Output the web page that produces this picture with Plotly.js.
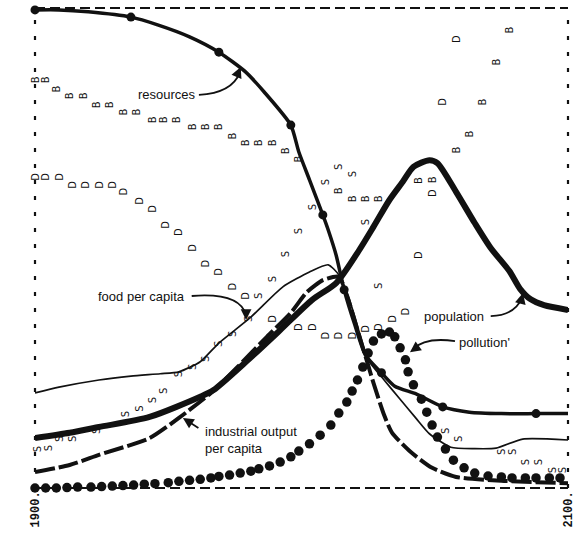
<!DOCTYPE html>
<html><head><meta charset="utf-8">
<script src="https://cdn.plot.ly/plotly-3.0.1.min.js"></script>
<style>
html,body{margin:0;padding:0;background:#fff;}
#chart{width:580px;height:539px;}
</style></head><body><div id="chart"></div>
<script>
// x: year, y: share of each variable's own vertical scale (0 = bottom, 1 = top)
const tickYears = [1900, 2100];
const tickLabels = ["1900.", "2100."];

const resourcesYear = [1900,1909,1920,1936,1946,1958,1969,1979,1986,1996,1999,2003,2008,2010,2013,2016,2020,2024,2030,2035,2043,2053,2063,2075,2088,2100];
const resourcesVal  = [0.996,0.996,0.992,0.981,0.965,0.940,0.908,0.867,0.825,0.756,0.700,0.642,0.569,0.538,0.485,0.413,0.340,0.277,0.240,0.212,0.196,0.169,0.158,0.155,0.155,0.155];

const populationYear = [1900,1913,1924,1943,1962,1967,1980,1992,2004,2013,2021,2027,2033,2038,2042,2048,2051,2058,2065,2071,2078,2082,2086,2091,2100];
const populationVal  = [0.104,0.115,0.127,0.148,0.190,0.204,0.267,0.329,0.392,0.427,0.490,0.544,0.600,0.638,0.669,0.683,0.677,0.617,0.552,0.500,0.452,0.415,0.393,0.381,0.371];

const foodYear = [1900,1909,1924,1936,1947,1954,1962,1969,1981,1993,2003,2010,2014,2018,2022,2025,2031,2037,2043,2048,2056,2065,2073,2083,2100];
const foodVal  = [0.198,0.210,0.225,0.233,0.238,0.242,0.263,0.302,0.356,0.419,0.450,0.465,0.444,0.392,0.319,0.267,0.225,0.185,0.145,0.113,0.085,0.082,0.083,0.102,0.100];

const industryYear = [1900,1913,1924,1943,1954,1966,1976,1987,1996,2002,2008,2014,2017,2021,2025,2027,2031,2034,2041,2049,2058,2075,2100];
const industryVal  = [0.033,0.048,0.069,0.104,0.146,0.198,0.252,0.315,0.365,0.408,0.433,0.440,0.402,0.329,0.256,0.219,0.152,0.115,0.075,0.042,0.023,0.015,0.010];

const pollutionYear = [1900,1904,1908,1912,1916,1921,1925,1929,1933,1937,1941,1945,1950,1954,1958,1962,1966,1969,1973,1977,1981,1984,1988,1992,1996,1999,2003,2007,2011,2014,2017,2019,2021,2023,2025,2027,2030,2033,2035,2037,2039,2040,2042,2045,2047,2049,2051,2054,2057,2061,2065,2070,2075,2079,2084,2088,2093,2097];
const pollutionVal  = [0.000,0.000,0.000,0.001,0.002,0.002,0.003,0.004,0.005,0.006,0.008,0.009,0.011,0.014,0.016,0.018,0.021,0.024,0.027,0.031,0.035,0.040,0.046,0.054,0.065,0.077,0.092,0.110,0.131,0.156,0.179,0.202,0.225,0.252,0.281,0.306,0.321,0.325,0.315,0.292,0.267,0.242,0.215,0.185,0.158,0.131,0.106,0.081,0.058,0.042,0.031,0.025,0.023,0.021,0.021,0.021,0.021,0.021];

const birthYear = [1900,1904,1908,1913,1918,1923,1928,1933,1938,1944,1948,1953,1959,1964,1969,1974,1979,1984,1989,1994,1999,2014,2019,2024,2029,2044,2049,2058,2063,2068,2073,2078];
const birthVal  = [0.848,0.848,0.829,0.815,0.815,0.796,0.796,0.781,0.781,0.765,0.765,0.765,0.750,0.750,0.750,0.731,0.717,0.717,0.717,0.700,0.683,0.617,0.600,0.600,0.600,0.638,0.640,0.702,0.735,0.802,0.885,0.952];

const deathYear = [1900,1904,1909,1914,1919,1924,1929,1933,1939,1944,1949,1954,1959,1964,1969,1974,1979,1989,1999,2004,2009,2014,2019,2024,2029,2034,2039,2044,2049,2053,2058];
const deathVal  = [0.646,0.646,0.646,0.629,0.629,0.629,0.629,0.615,0.596,0.579,0.546,0.531,0.498,0.465,0.448,0.417,0.398,0.350,0.333,0.333,0.315,0.315,0.315,0.329,0.333,0.350,0.365,0.483,0.612,0.802,0.933];

const servicesYear = [1901,1905,1909,1914,1923,1934,1939,1944,1948,1954,1959,1964,1969,1974,1980,1984,1989,1994,1999,2004,2009,2014,2019,2024,2029,2054,2059,2075,2079,2084,2089,2094,2098];
const servicesVal  = [0.079,0.081,0.100,0.100,0.117,0.152,0.163,0.181,0.200,0.235,0.250,0.267,0.298,0.319,0.350,0.398,0.433,0.485,0.533,0.583,0.635,0.667,0.652,0.552,0.419,0.117,0.100,0.073,0.073,0.052,0.052,0.035,0.035];

const labelFont = {family: 'Liberation Sans, Arial, sans-serif', size: 13, color: '#111'};
const letterFont = {family: 'DejaVu Sans, sans-serif', size: 10, color: '#111'};

function letters(xs, ys, ch) {
  return {x: xs, y: ys, mode: 'text', type: 'scatter', text: xs.map(() => ch),
          textposition: 'middle center', textfont: letterFont, hoverinfo: 'skip', cliponaxis: false};
}

const traces = [
  letters(birthYear, birthVal, 'B'),
  letters(deathYear, deathVal, 'D'),
  letters(servicesYear, servicesVal, 'S'),
  {x: foodYear, y: foodVal, mode: 'lines', type: 'scatter', name: 'food per capita',
   line: {color: '#111', width: 1.7, shape: 'spline', smoothing: 0.6}},
  {x: industryYear, y: industryVal, mode: 'lines', type: 'scatter', name: 'industrial output per capita',
   line: {color: '#111', width: 4, dash: '20px,4px', shape: 'spline', smoothing: 0.6}},
  {x: populationYear, y: populationVal, mode: 'lines', type: 'scatter', name: 'population',
   line: {color: '#111', width: 6, shape: 'spline', smoothing: 0.7}},
  {x: resourcesYear, y: resourcesVal, mode: 'lines+markers', type: 'scatter', name: 'resources',
   line: {color: '#111', width: 3.5, shape: 'spline', smoothing: 0.6},
   marker: {color: '#111', size: 9, maxdisplayed: 12}, cliponaxis: false},
  {x: pollutionYear, y: pollutionVal, mode: 'markers', type: 'scatter', name: 'pollution',
   marker: {color: '#111', size: 9.5}, cliponaxis: false}
];

const arrowLine = {color: '#111', width: 1.8};
const shapes = [
  {type: 'line', xref: 'paper', yref: 'paper', x0: 0, x1: 1, y0: 1, y1: 1, line: {color: '#111', width: 1.8, dash: '10px,5px'}},
  {type: 'line', xref: 'paper', yref: 'paper', x0: 0, x1: 1, y0: 0, y1: 0, line: {color: '#111', width: 1.8, dash: '10px,5px'}},
  {type: 'line', xref: 'paper', yref: 'paper', x0: 0, x1: 0, y0: 0, y1: 1, line: {color: '#111', width: 2.2, dash: '4px,12px'}},
  {type: 'line', xref: 'paper', yref: 'paper', x0: 1, x1: 1, y0: 0, y1: 1, line: {color: '#111', width: 2.2, dash: '4px,12px'}},
  {type: 'path', xref: 'x', yref: 'y', path: 'M 1961.5,0.819 Q 1973.9,0.823 1976.9,0.866', line: arrowLine},
  {type: 'path', xref: 'x', yref: 'y', path: 'M 1958.8,0.400 Q 1976.9,0.408 1979.2,0.360', line: arrowLine},
  {type: 'path', xref: 'x', yref: 'y', path: 'M 2071.0,0.358 Q 2080.1,0.360 2082.7,0.396', line: arrowLine},
  {type: 'path', xref: 'x', yref: 'y', path: 'M 2057.6,0.306 Q 2046.3,0.315 2041.8,0.289', line: arrowLine}
];

function head(x, y, ax, ay) {
  return {x: x, y: y, ax: ax, ay: ay, xref: 'x', yref: 'y', text: '', showarrow: true,
          arrowhead: 2, arrowsize: 1.2, arrowwidth: 1.8, arrowcolor: '#111', standoff: 0};
}

const annotations = [
  {x: 1949.5, y: 0.819, xref: 'x', yref: 'y', text: 'resources', showarrow: false, font: labelFont},
  {x: 1940.1, y: 0.400, xref: 'x', yref: 'y', text: 'food per capita', showarrow: false, font: labelFont},
  {x: 1963.0, y: 0.100, xref: 'x', yref: 'y', text: 'industrial output<br>per capita', showarrow: false,
   xanchor: 'left', align: 'left', font: labelFont},
  {x: 2057.2, y: 0.358, xref: 'x', yref: 'y', text: 'population', showarrow: false, font: labelFont},
  {x: 2058.5, y: 0.304, xref: 'x', yref: 'y', text: "pollution'", showarrow: false, xanchor: 'left', font: labelFont},
  head(1977.2, 0.877, -3, 7),
  head(1979.2, 0.350, 0, -8),
  head(2083.1, 0.406, -2, 8),
  head(2040.7, 0.283, 7, -5),
  {x: 1955.5, y: 0.146, ax: 17, ay: 11, xref: 'x', yref: 'y', text: '', showarrow: true,
   arrowhead: 2, arrowsize: 1.2, arrowwidth: 1.8, arrowcolor: '#111', standoff: 0}
];

const layout = {
  width: 580, height: 539,
  margin: {l: 35, r: 12, t: 8, b: 51},
  paper_bgcolor: '#fff', plot_bgcolor: '#fff',
  showlegend: false,
  xaxis: {range: [1900, 2100], tickvals: tickYears, ticktext: tickLabels, tickangle: -90,
          showgrid: false, zeroline: false, showline: false, ticks: '',
          tickfont: {family: 'Liberation Mono, DejaVu Sans Mono, monospace', size: 12, color: '#111', weight: 'bold'}},
  yaxis: {range: [0, 1], visible: false, showgrid: false, zeroline: false},
  shapes: shapes,
  annotations: annotations
};

// the printout letters lie on their side, like the rotated page
function rotateLetters() {
  document.querySelectorAll('#chart .textpoint text').forEach(function (t) {
    const x = parseFloat(t.getAttribute('x')) || 0;
    const y = parseFloat(t.getAttribute('y')) || 0;
    const cy = y - 3.6;
    t.setAttribute('transform', 'rotate(-90 ' + x + ' ' + cy + ')');
  });
}

Plotly.newPlot('chart', traces, layout, {displayModeBar: false, staticPlot: true});
rotateLetters();
</script></body></html>
